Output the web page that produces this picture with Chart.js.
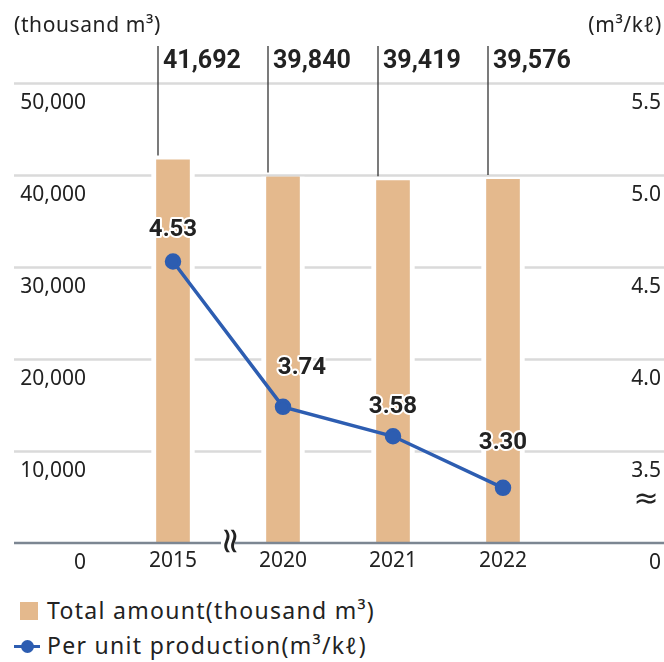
<!DOCTYPE html>
<html>
<head>
<meta charset="utf-8">
<script src="https://cdn.jsdelivr.net/npm/chart.js@4/dist/chart.umd.min.js"></script>
<style>
    html, body { margin: 0; padding: 0; background: #fff; }
    #wrap { position: relative; width: 664px; height: 590px; }
    .legend { font-family: "Noto Sans", sans-serif; font-size: 23px; letter-spacing: 1.3px; color: #222; }
    .legend .row { position: absolute; left: 0; height: 30px; line-height: 30px; }
    .legend .txt { position: absolute; left: 47px; top: -1px; white-space: nowrap; }
    .legend .box { position: absolute; left: 20px; top: 6px; width: 18px; height: 18px; background: #E4B98D; }
    .legend .ln { position: absolute; left: 14px; top: 14px; width: 26px; height: 3px; background: #2D5DB1; }
    .legend .dot { position: absolute; left: 21px; top: 9px; width: 13px; height: 13px; border-radius: 50%; background: #2D5DB1; }
</style>
</head>
<body>
<div id="wrap"><canvas id="chart"></canvas></div>
<div class="legend">
    <div class="row" style="top:596px"><span class="box"></span><span class="txt">Total amount(thousand m³)</span></div>
    <div class="row" style="top:631px"><span class="ln"></span><span class="dot"></span><span class="txt">Per unit production(m³/kℓ)</span></div>
</div>
<script>
    "use strict";

    // Data
    var years = ["2015", "2020", "2021", "2022"];
    var totalAmount = [41692, 39840, 39419, 39576];
    var perUnit = [4.53, 3.74, 3.58, 3.30];
    var leftTicks = [0, 10000, 20000, 30000, 40000, 50000];
    var rightTicks = [3.0, 3.5, 4.0, 4.5, 5.0, 5.5];

    var barColor = "#E4B98D";
    var lineColor = "#2D5DB1";
    var textColor = "#222";
    var gridColor = "#DADADA";
    var axisColor = "#7C8692";
    var sideBorder = 5;

    // point label nudges (dx, dy from point)
    var labelShift = [[0, -31], [19, -39], [0, -29], [0, -45]];

    function haloText(ctx, txt, x, y) {
        ctx.lineJoin = "round";
        ctx.strokeStyle = "#fff";
        ctx.lineWidth = 4;
        ctx.strokeText(txt, x, y);
        ctx.fillStyle = textColor;
        ctx.fillText(txt, x, y);
    }

    // full width grid + leader lines (under the bars)
    var underlay = {
        id: "underlay",
        beforeDatasetsDraw: function (chart) {
            var ctx = chart.ctx;
            var y = chart.scales.y;
            ctx.save();
            ctx.strokeStyle = gridColor;
            ctx.lineWidth = 2.5;
            leftTicks.forEach(function (v) {
                if (v === 0) return;
                var py = Math.round(y.getPixelForValue(v)) + 0.5;
                ctx.beginPath();
                ctx.moveTo(14, py);
                ctx.lineTo(664, py);
                ctx.stroke();
            });
            var bars = chart.getDatasetMeta(0).data;
            ctx.strokeStyle = "#333";
            ctx.lineWidth = 1.3;
            bars.forEach(function (b) {
                var lx = b.x - b.width / 2 + sideBorder + 1.5;
                ctx.beginPath();
                ctx.moveTo(lx, 46);
                ctx.lineTo(lx, b.y - 4);
                ctx.stroke();
            });
            ctx.restore();
        }
    };

    // axis line, labels and break marks (over the bars)
    var overlay = {
        id: "overlay",
        afterDatasetsDraw: function (chart) {
            var ctx = chart.ctx;
            var base = chart.scales.y.getPixelForValue(0);
            ctx.save();
            ctx.strokeStyle = axisColor;
            ctx.lineWidth = 2.5;
            ctx.beginPath();
            ctx.moveTo(14, base);
            ctx.lineTo(664, base);
            ctx.stroke();

            // axis units
            ctx.font = "21px 'Noto Sans'";
            ctx.letterSpacing = "0.6px";
            ctx.fillStyle = textColor;
            ctx.textBaseline = "middle";
            ctx.textAlign = "left";
            ctx.fillText("(thousand m³)", 14, 26);
            ctx.textAlign = "right";
            ctx.fillText("(m³/kℓ)", 662, 26);
            ctx.letterSpacing = "0px";

            // totals above the bars
            ctx.font = "bold 25px Roboto";
            ctx.textAlign = "left";
            chart.getDatasetMeta(0).data.forEach(function (b, i) {
                var lx = b.x - b.width / 2 + sideBorder + 1.5;
                ctx.fillText(totalAmount[i].toLocaleString("en-US"), lx + 5, 62);
            });

            // per unit labels
            ctx.font = "bold 24px Roboto";
            ctx.textAlign = "center";
            chart.getDatasetMeta(1).data.forEach(function (p, i) {
                haloText(ctx, perUnit[i].toFixed(2), p.x + labelShift[i][0], p.y + labelShift[i][1]);
            });

            // break marks
            ctx.fillStyle = textColor;
            ctx.font = "30px 'DejaVu Sans'";
            ctx.fillText("≈", 646, 500);
            ctx.save();
            ctx.translate(228, 541);
            ctx.rotate(Math.PI / 2);
            ctx.fillStyle = "#fff";
            ctx.fillRect(-16, -7, 32, 14);
            ctx.fillStyle = textColor;
            ctx.font = "36px 'DejaVu Sans'";
            ctx.fillText("≈", 0, 0);
            ctx.restore();
            ctx.restore();
        }
    };

    var ctx = document.getElementById("chart").getContext("2d");
    var myChart = new Chart(ctx, {
        type: "bar",
        data: {
            labels: years,
            datasets: [
                {
                    label: "Total amount(thousand m³)",
                    data: totalAmount,
                    yAxisID: "y",
                    backgroundColor: barColor,
                    borderColor: "#fff",
                    borderWidth: { left: sideBorder, right: sideBorder, top: 0, bottom: 0 },
                    borderSkipped: false,
                    barThickness: 43,
                    order: 2,
                },
                {
                    type: "line",
                    label: "Per unit production(m³/kℓ)",
                    data: perUnit,
                    yAxisID: "y2",
                    borderColor: lineColor,
                    backgroundColor: lineColor,
                    borderWidth: 3.5,
                    pointRadius: 6.5,
                    pointHoverRadius: 6.5,
                    tension: 0,
                    order: 1,
                },
            ],
        },
        options: {
            responsive: true,
            maintainAspectRatio: false,
            animation: false,
            layout: { padding: { top: 83, right: 3, left: 0, bottom: 0 } },
            plugins: {
                legend: { display: false },
                tooltip: { enabled: false },
            },
            scales: {
                x: {
                    grid: { display: false, drawTicks: false },
                    border: { display: false },
                    ticks: {
                        color: textColor,
                        font: { family: "Noto Sans", size: 21 },
                        padding: 5,
                    },
                    afterFit: function (s) { s.height = 47; },
                },
                y: {
                    position: "left",
                    min: 0,
                    max: 50000,
                    afterBuildTicks: function (s) {
                        s.ticks = leftTicks.map(function (v) { return { value: v }; });
                    },
                    grid: { display: false, drawTicks: false },
                    border: { display: false },
                    ticks: {
                        color: textColor,
                        font: { family: "Noto Sans", size: 21 },
                        padding: 32,
                        labelOffset: 20,
                        callback: function (v) { return v.toLocaleString("en-US"); },
                    },
                    afterFit: function (s) { s.width = 118; },
                },
                y2: {
                    position: "right",
                    min: 3,
                    max: 5.5,
                    afterBuildTicks: function (s) {
                        s.ticks = rightTicks.map(function (v) { return { value: v }; });
                    },
                    grid: { display: false, drawTicks: false },
                    border: { display: false },
                    ticks: {
                        color: textColor,
                        font: { family: "Noto Sans", size: 21 },
                        crossAlign: "far",
                        labelOffset: 20,
                        callback: function (v) { return v === 3 ? "0" : v.toFixed(1); },
                    },
                    afterFit: function (s) { s.width = 103; },
                },
            },
        },
        plugins: [underlay, overlay],
    });
</script>
</body>
</html>
